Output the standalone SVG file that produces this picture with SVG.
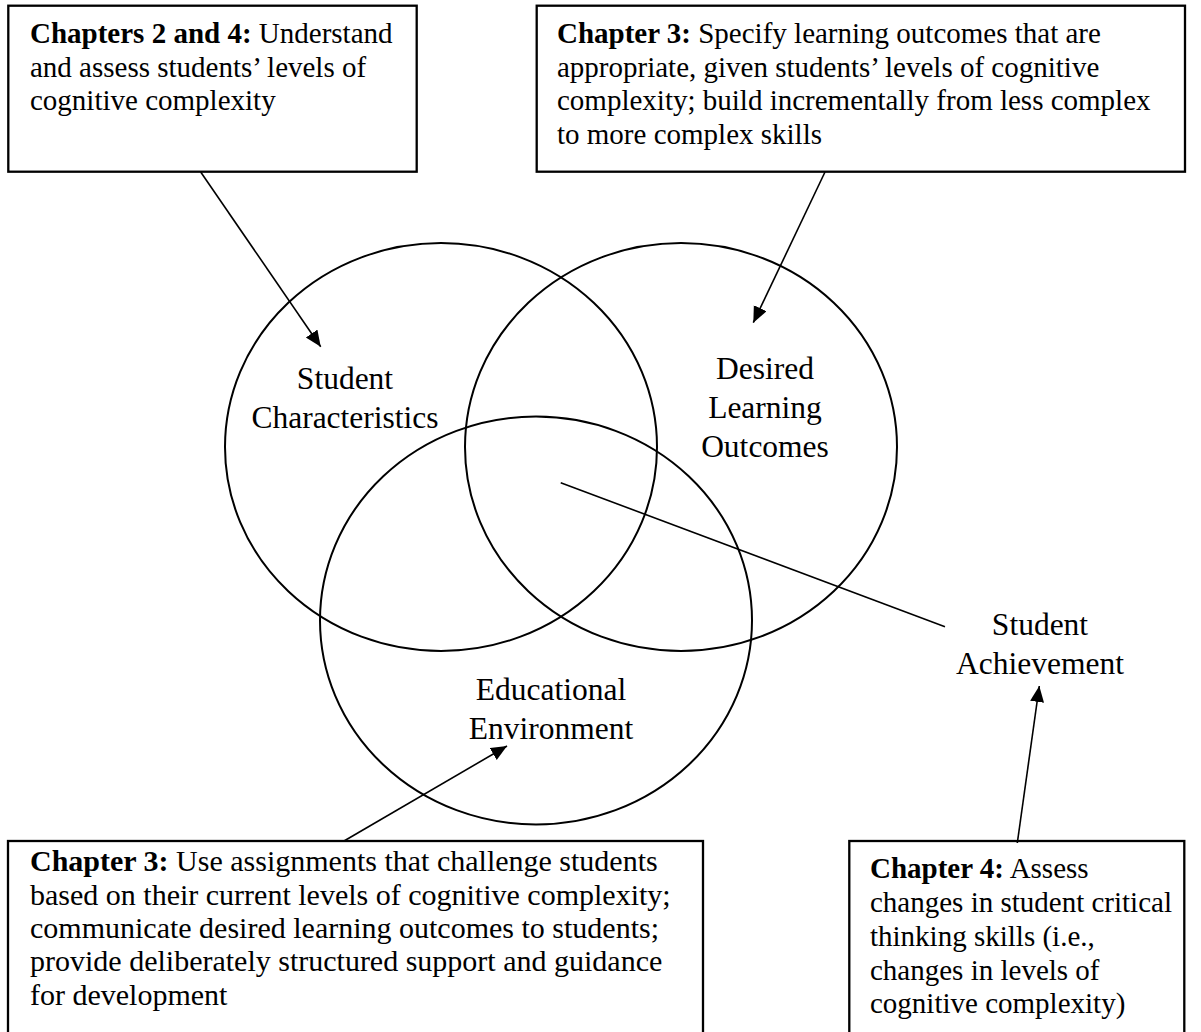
<svg xmlns="http://www.w3.org/2000/svg" width="1201" height="1032" viewBox="0 0 1201 1032">
<defs>
<style>
.box{fill:#fff;stroke:#000;stroke-width:2.3}
.circ{fill:none;stroke:#000;stroke-width:2}
.con{fill:none;stroke:#000;stroke-width:1.6}
.bt{font-family:"Liberation Serif","Times New Roman",serif;font-size:29px;fill:#000}
.bt3{font-size:30px}
.lb{font-family:"Liberation Serif","Times New Roman",serif;font-size:31.5px;fill:#000;text-anchor:middle}
.b{font-weight:bold}
</style>
<marker id="ah" markerUnits="userSpaceOnUse" markerWidth="18" markerHeight="16" refX="16" refY="7" orient="auto">
<path d="M0,0 L16,7 L0,14 z" fill="#000"/>
</marker>
</defs>
<rect width="1201" height="1032" fill="#fff"/>
<g id="venn">
<ellipse id="c-student" class="circ" cx="441" cy="447" rx="216" ry="204"/>
<ellipse id="c-outcomes" class="circ" cx="681" cy="447" rx="216" ry="204"/>
<ellipse id="c-environment" class="circ" cx="536" cy="620.5" rx="216" ry="204"/>
</g>
<g id="labels">
<g id="student-characteristics"><text class="lb" x="345" y="389">Student</text><text class="lb" x="345" y="428">Characteristics</text></g>
<g id="desired-outcomes"><text class="lb" x="765" y="379">Desired</text><text class="lb" x="765" y="418">Learning</text><text class="lb" x="765" y="457">Outcomes</text></g>
<g id="educational-environment"><text class="lb" x="551" y="700">Educational</text><text class="lb" x="551" y="739">Environment</text></g>
<g id="student-achievement"><text class="lb" x="1040" y="635">Student</text><text class="lb" x="1040" y="674">Achievement</text></g>
</g>
<g id="box-ch24">
<rect class="box" x="8.3" y="5.7" width="408.4" height="166"/>
<text class="bt" x="30" y="43"><tspan class="b">Chapters 2 and 4:</tspan> Understand</text>
<text class="bt" x="30" y="76.5">and assess students’ levels of</text>
<text class="bt" x="30" y="110">cognitive complexity</text>
</g>
<g id="box-ch3-top">
<rect class="box" x="536.7" y="5.7" width="648.3" height="166"/>
<text class="bt" x="557" y="43"><tspan class="b">Chapter 3:</tspan> Specify learning outcomes that are</text>
<text class="bt" x="557" y="76.5">appropriate, given students’ levels of cognitive</text>
<text class="bt" x="557" y="110">complexity; build incrementally from less complex</text>
<text class="bt" x="557" y="143.5">to more complex skills</text>
</g>
<g id="box-ch3-bottom">
<rect class="box" x="8" y="841" width="695" height="220"/>
<text class="bt bt3" x="30" y="871"><tspan class="b">Chapter 3:</tspan> Use assignments that challenge students</text>
<text class="bt bt3" x="30" y="904.5">based on their current levels of cognitive complexity;</text>
<text class="bt bt3" x="30" y="938">communicate desired learning outcomes to students;</text>
<text class="bt bt3" x="30" y="971">provide deliberately structured support and guidance</text>
<text class="bt bt3" x="30" y="1004.5">for development</text>
</g>
<g id="box-ch4">
<rect class="box" x="849.3" y="841" width="335" height="220"/>
<text class="bt" x="870" y="878"><tspan class="b">Chapter 4:</tspan> Assess</text>
<text class="bt" x="870" y="912">changes in student critical</text>
<text class="bt" x="870" y="946">thinking skills (i.e.,</text>
<text class="bt" x="870" y="979.5">changes in levels of</text>
<text class="bt" x="870" y="1013">cognitive complexity)</text>
</g>
<g id="connectors">
<line class="con" x1="200.7" y1="172" x2="320.7" y2="346.7" marker-end="url(#ah)"/>
<line class="con" x1="825" y1="172" x2="753.3" y2="322.7" marker-end="url(#ah)"/>
<line class="con" x1="344" y1="841" x2="507" y2="746" marker-end="url(#ah)"/>
<line class="con" x1="1017.3" y1="843" x2="1039.3" y2="686" marker-end="url(#ah)"/>
<line class="con" x1="560.7" y1="482.7" x2="945" y2="626.7"/>
</g>
</svg>
